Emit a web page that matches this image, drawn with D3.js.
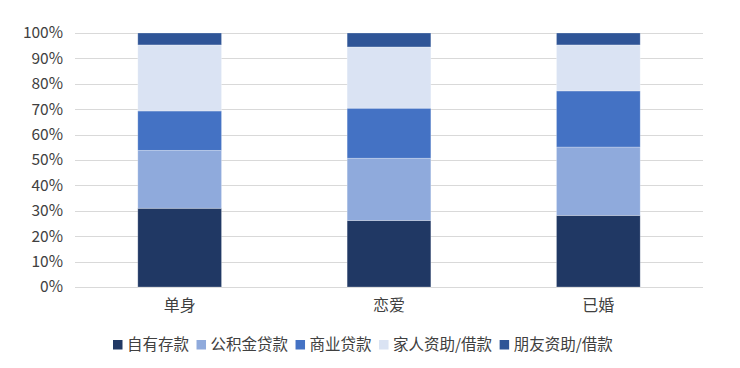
<!DOCTYPE html>
<html>
<head>
<meta charset="utf-8">
<script src="https://cdn.jsdelivr.net/npm/d3@7"></script>
<style>
  body { margin: 0; background: #fff; }
  text { font-family: "Noto Sans CJK SC", "Noto Sans", sans-serif; fill: #404040; }
</style>
</head>
<body>
<svg id="chart" width="740" height="368"></svg>
<script>
// categories and series (percent of each bar)
const categories = ['单身', '恋爱', '已婚'];
const seriesNames = ['自有存款', '公积金贷款', '商业贷款', '家人资助/借款', '朋友资助/借款'];
const colors = ['#203864', '#8FAADC', '#4472C4', '#DAE3F3', '#2F5597'];

const ownSavings = [31, 26.2, 28.2];
const housingFund = [22.8, 24.5, 26.9];
const commercialLoan = [15.5, 19.7, 22.1];
const familyHelp = [26, 24.1, 18.1];
const friendHelp = [4.7, 5.5, 4.7];

const yTicks = [0, 0.1, 0.2, 0.3, 0.4, 0.5, 0.6, 0.7, 0.8, 0.9, 1];

const seriesValues = [ownSavings, housingFund, commercialLoan, familyHelp, friendHelp];

const rows = categories.map((c, i) => {
  const row = {cat: c};
  let total = 0;
  seriesNames.forEach((s, j) => { total += seriesValues[j][i]; });
  seriesNames.forEach((s, j) => { row[s] = seriesValues[j][i] / total; });
  return row;
});

const svg = d3.select('#chart');
const margin = {top: 33, left: 75, right: 37, bottom: 81};
const width = 740 - margin.left - margin.right;
const height = 368 - margin.top - margin.bottom;

const x = d3.scaleBand()
  .domain(categories)
  .range([0, width])
  .paddingInner(0.6)
  .paddingOuter(0.3);

const y = d3.scaleLinear()
  .domain([0, 1])
  .range([height, 0]);

const g = svg.append('g')
  .attr('transform', 'translate(' + margin.left + ',' + margin.top + ')');

// gridlines
g.append('g')
  .selectAll('line')
  .data(yTicks)
  .enter().append('line')
    .attr('x1', 0)
    .attr('x2', width)
    .attr('y1', d => Math.round(y(d)) + 0.5)
    .attr('y2', d => Math.round(y(d)) + 0.5)
    .attr('stroke', '#d9d9d9')
    .attr('stroke-width', 1);

// y axis labels
const yAxis = d3.axisLeft(y)
  .tickValues(yTicks)
  .tickFormat(d3.format('.0%'))
  .tickSize(0)
  .tickPadding(12);

g.append('g')
  .call(yAxis)
  .call(a => a.select('.domain').remove())
  .selectAll('text')
    .style('font-size', '15.5px')
    .style('fill', '#404040');

// stacked bars
const stacked = d3.stack().keys(seriesNames)(rows);

g.append('g')
  .selectAll('g')
  .data(stacked)
  .enter().append('g')
    .attr('fill', (d, i) => colors[i])
  .selectAll('rect')
    .data(d => d)
  .enter().append('rect')
    .attr('x', d => x(d.data.cat))
    .attr('width', x.bandwidth())
    .attr('y', d => y(d[1]))
    .attr('height', d => y(d[0]) - y(d[1]))
    .attr('stroke', '#ffffff')
    .attr('stroke-opacity', 0.35)
    .attr('stroke-width', 0.75);

// x axis labels
const xAxis = d3.axisBottom(x).tickSize(0).tickPadding(13);
g.append('g')
  .attr('transform', 'translate(0,' + height + ')')
  .call(xAxis)
  .call(a => a.select('.domain').remove())
  .selectAll('text')
    .style('font-size', '16px')
    .style('fill', '#404040');

// legend
const legend = svg.append('g').attr('transform', 'translate(113,345)');
let lx = 0;
seriesNames.forEach((name, i) => {
  const item = legend.append('g').attr('transform', 'translate(' + lx + ',0)');
  item.append('rect')
    .attr('x', 0)
    .attr('y', -5)
    .attr('width', 9.5)
    .attr('height', 9.5)
    .attr('fill', colors[i]);
  const t = item.append('text')
    .attr('x', 14)
    .attr('y', 0)
    .attr('dy', '0.35em')
    .style('font-size', '15.5px')
    .text(name);
  lx += 14 + t.node().getComputedTextLength() + 7.5;
});
</script>
</body>
</html>
